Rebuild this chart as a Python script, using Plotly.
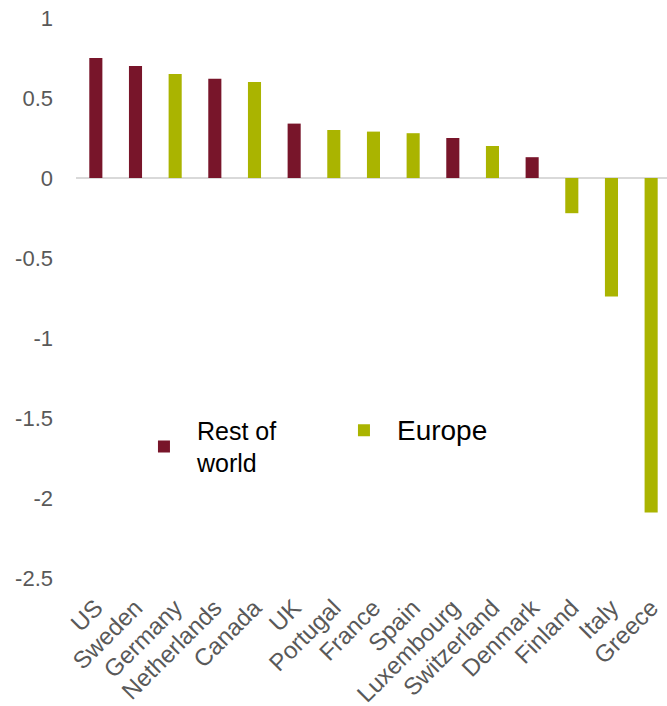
import plotly.graph_objects as go

# Country order along the axis, with the value and grouping of each bar
countries = ["US", "Sweden", "Germany", "Netherlands", "Canada", "UK", "Portugal",
             "France", "Spain", "Luxembourg", "Switzerland", "Denmark", "Finland",
             "Italy", "Greece"]
values = [0.75, 0.70, 0.65, 0.62, 0.60, 0.34, 0.30, 0.29, 0.28, 0.25, 0.20, 0.13,
          -0.22, -0.74, -2.09]
groups = ["Rest of world", "Rest of world", "Europe", "Rest of world", "Europe",
          "Rest of world", "Europe", "Europe", "Europe", "Rest of world", "Europe",
          "Rest of world", "Europe", "Europe", "Europe"]

y_ticks = [1, 0.5, 0, -0.5, -1, -1.5, -2, -2.5]

series = [
    ("Rest of world", "Rest of<br>world", "#78152A"),
    ("Europe", "<span style='font-size:28px'>Europe</span>", "#AAB400"),
]

FONT = "Liberation Sans, Arial, sans-serif"

fig = go.Figure()
for key, label, color in series:
    xs = [c for c, g in zip(countries, groups) if g == key]
    ys = [v for v, g in zip(values, groups) if g == key]
    fig.add_trace(go.Bar(x=xs, y=ys, name=label, marker_color=color,
                         marker_line_width=0, width=0.33))

fig.update_layout(
    width=667, height=706,
    margin=dict(l=76, r=0, t=18, b=128),
    plot_bgcolor="white", paper_bgcolor="white",
    barmode="overlay",
    font=dict(family=FONT, color="#595959", size=22),
    legend=dict(orientation="h", x=0.093, y=0.235, xanchor="left", yanchor="middle",
                font=dict(size=25, color="#000000"), itemwidth=56, entrywidth=129,
                bgcolor="rgba(0,0,0,0)"),
    showlegend=True,
)
fig.update_xaxes(type="category", categoryorder="array", categoryarray=countries,
                 range=[-0.5, 14.4], tickangle=-45, showgrid=False, showline=False,
                 ticks="", ticklabelstandoff=10,
                 tickfont=dict(size=24, color="#595959"))
fig.update_yaxes(range=[-2.5, 1], tickvals=y_ticks, ticktext=[str(v) for v in y_ticks],
                 showgrid=False, zeroline=True, zerolinecolor="#D9D9D9", zerolinewidth=2,
                 showline=False, ticks="", ticklabelstandoff=22,
                 tickfont=dict(size=22, color="#595959"))

fig.write_html("out.html")
